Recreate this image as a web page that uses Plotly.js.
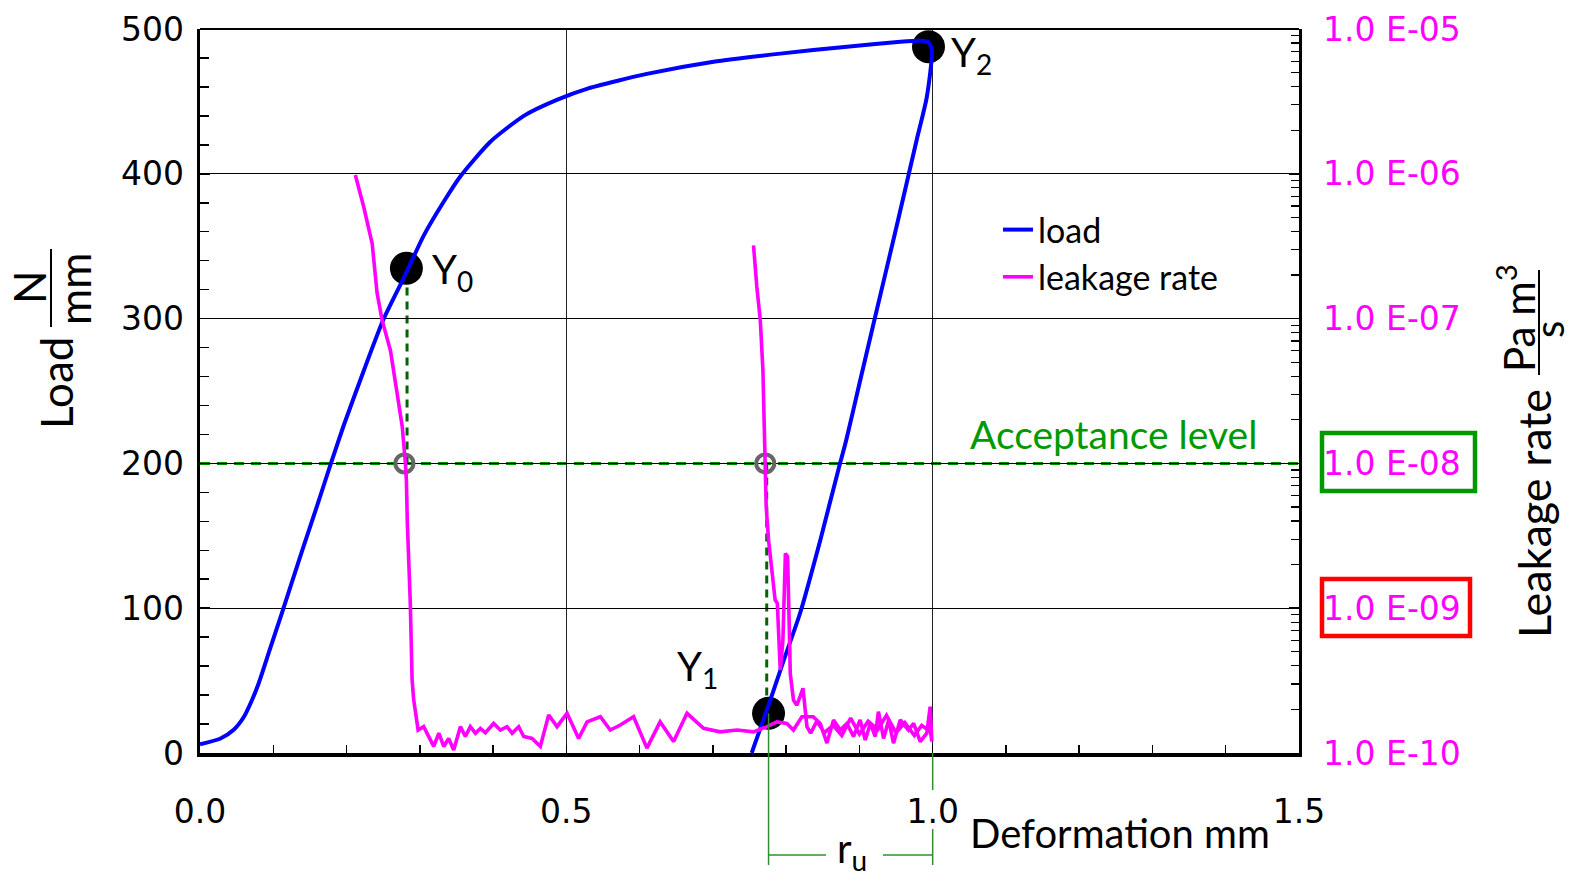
<!DOCTYPE html>
<html><head><meta charset="utf-8">
<script src="https://cdn.plot.ly/plotly-3.0.1.min.js"></script>
<style>html,body{margin:0;padding:0;background:#fff;} #chart{width:1575px;height:877px;}</style>
</head><body><div id="chart"></div>
<script>
// ---- data (deformation in mm, load in N/mm, leakage rate in Pa m^3/s) ----
const loadDeformation = [0, 0.028, 0.046, 0.060, 0.071, 0.080, 0.095, 0.112, 0.139, 0.160, 0.178, 0.196, 0.2235, 0.25, 0.28, 0.305, 0.333, 0.355, 0.396, 0.442, 0.487, 0.530, 0.610, 0.701, 0.792, 0.883, 0.956, 0.983, 0.994,
  0.999, 0.992, 0.978, 0.950, 0.920, 0.900, 0.882, 0.8715, 0.8466, 0.819, 0.796, 0.778, 0.756, 0.753];
const loadValues = [6, 10, 16, 25, 36.6, 48, 71, 97, 139, 171, 199, 226, 264, 299, 330, 357, 381, 398, 422, 440, 451, 459, 469, 477.4, 483, 487.8, 491.2, 491.9, 491,
  485.5, 453, 423, 362, 298, 255, 216, 196, 147, 96.5, 63, 36, 4.4, 0];

const leakDeformation = [0.212, 0.2235, 0.235, 0.2417, 0.2485, 0.26, 0.269, 0.276, 0.2804, 0.2817, 0.283, 0.287, 0.2895, 0.2917, 0.2977,
  0.3053, 0.319, 0.326, 0.3326, 0.3394, 0.3463, 0.3554, 0.3622, 0.369, 0.3759, 0.3827, 0.3895, 0.4008, 0.41, 0.419, 0.426, 0.435, 0.4418,
  0.4532, 0.4645, 0.4759, 0.4873, 0.501, 0.5168, 0.5283, 0.5464, 0.56, 0.5737, 0.5918, 0.610, 0.628, 0.6464, 0.6647, 0.6873, 0.710, 0.733,
  0.7555, 0.7738, 0.7875, 0.801, 0.810, 0.8215, 0.837, 0.8465, 0.8557, 0.8647, 0.874, 0.883, 0.892, 0.901, 0.908, 0.915, 0.9216, 0.926,
  0.933, 0.940, 0.9465, 0.9557, 0.967, 0.974, 0.983, 0.992, 0.9966, 0.9989,
  0.997, 0.985, 0.975, 0.962, 0.950, 0.937, 0.925, 0.912, 0.900, 0.888, 0.876, 0.864, 0.852, 0.842, 0.8335, 0.8284, 0.826, 0.823, 0.819,
  0.8147, 0.810, 0.8056, 0.8047, 0.802, 0.799, 0.7956, 0.792, 0.788, 0.785, 0.7806, 0.776, 0.7728, 0.7715, 0.770, 0.7683, 0.7647, 0.760, 0.7555];
const leakValues = [9.8e-7, 5.9e-7, 3.3e-7, 1.5e-7, 9.8e-8, 6.0e-8, 3.05e-8, 1.8e-8, 1.0e-8, 7.7e-9, 3.9e-9, 1.09e-9, 3.19e-10, 2.32e-10, 1.44e-10,
  1.52e-10, 1.11e-10, 1.37e-10, 1.11e-10, 1.26e-10, 1.05e-10, 1.52e-10, 1.30e-10, 1.52e-10, 1.37e-10, 1.48e-10, 1.38e-10, 1.60e-10, 1.44e-10, 1.52e-10, 1.37e-10, 1.52e-10, 1.30e-10,
  1.26e-10, 1.11e-10, 1.83e-10, 1.52e-10, 1.88e-10, 1.26e-10, 1.64e-10, 1.78e-10, 1.44e-10, 1.56e-10, 1.78e-10, 1.08e-10, 1.64e-10, 1.20e-10, 1.88e-10, 1.48e-10, 1.40e-10, 1.44e-10,
  1.40e-10, 1.52e-10, 1.64e-10, 1.60e-10, 1.44e-10, 1.78e-10, 1.78e-10, 1.60e-10, 1.17e-10, 1.69e-10, 1.44e-10, 1.60e-10, 1.30e-10, 1.69e-10, 1.23e-10, 1.60e-10, 1.30e-10, 1.93e-10,
  1.26e-10, 1.69e-10, 1.17e-10, 1.69e-10, 1.44e-10, 1.60e-10, 1.20e-10, 1.37e-10, 2.09e-10, 1.20e-10,
  1.41e-10, 1.55e-10, 1.32e-10, 1.62e-10, 1.38e-10, 1.82e-10, 1.45e-10, 1.66e-10, 1.35e-10, 1.74e-10, 1.32e-10, 1.55e-10, 1.38e-10, 1.66e-10, 1.37e-10, 1.52e-10, 2.09e-10, 2.80e-10, 2.45e-10,
  2.14e-10, 2.32e-10, 3.55e-10, 6.0e-10, 2.27e-9, 2.39e-9, 6.0e-10, 3.74e-10, 1.08e-9, 1.14e-9, 1.74e-9, 2.96e-9, 5.0e-9, 1.0e-8, 2.0e-8, 4.4e-8, 9.8e-8, 1.66e-7, 3.2e-7];

// characteristic points
const pointNames = ['Y<sub>0</sub>', 'Y<sub>1</sub>', 'Y<sub>2</sub>'];
const pointDeformation = [0.2817, 0.776, 0.9943];
const pointLoad = [334.7, 27.4, 487.8];
// crossings with acceptance level
const acceptanceLoad = 200;
const crossDeformation = [0.279, 0.7715];
const ruStart = 0.776, ruEnd = 1.0;

const loadTicks = [0, 100, 200, 300, 400, 500];
const defTicks = [0, 0.5, 1.0, 1.5];
const defTickText = ['0.0', '0.5', '1.0', '1.5'];
const leakTicks = [1e-10, 1e-9, 1e-8, 1e-7, 1e-6, 1e-5];
const leakTickText = ['1.0 E-10', '1.0 E-09', '1.0 E-08', '1.0 E-07', '1.0 E-06', '1.0 E-05'];

// ---- layout helpers ----
const W = 1575, H = 877, M = {l: 200, r: 276, t: 29, b: 124};
const PW = W - M.l - M.r, PH = H - M.t - M.b;
const px = v => (v - M.l) / PW;          // pixel x -> paper
const py = v => (H - M.b - v) / PH;      // pixel y -> paper
const X_RANGE = [0, 1.5];
const dx = v => (v - X_RANGE[0]) / (X_RANGE[1] - X_RANGE[0]); // data x -> paper
const Y_RANGE = [0, 500];
const dy = v => (v - Y_RANGE[0]) / (Y_RANGE[1] - Y_RANGE[0]);

const TXT = 'Lato, "Open Sans", sans-serif';
const NUM = '"DejaVu Sans", Verdana, sans-serif';
const GREEN = '#008a00';
const DARK_GREEN = '#006400';
const THIN_GREEN = '#2f8f2f';

const traces = [
  {x: pointDeformation, y: pointLoad, type: 'scatter', mode: 'markers', showlegend: false, hoverinfo: 'skip',
   marker: {color: '#000', size: 33}},
  {x: loadDeformation, y: loadValues, type: 'scatter', mode: 'lines', name: 'load',
   line: {color: '#0000ff', width: 4, shape: 'spline', smoothing: 0.6}},
  {x: leakDeformation, y: leakValues, type: 'scatter', mode: 'lines', name: 'leakage rate', yaxis: 'y2',
   line: {color: '#ff00ff', width: 3.6}},
  {x: crossDeformation, y: crossDeformation.map(() => acceptanceLoad), type: 'scatter', mode: 'markers', showlegend: false, hoverinfo: 'skip',
   marker: {symbol: 'circle-open', size: 18, color: '#666', line: {width: 4, color: '#666'}}}
];

const shapes = [
  // acceptance level
  {type: 'line', xref: 'paper', yref: 'y', x0: 0, x1: 1, y0: acceptanceLoad, y1: acceptanceLoad,
   line: {color: GREEN, width: 3, dash: '10px,7px'}, layer: 'below'},
  // Y0 projection
  {type: 'line', xref: 'x', yref: 'y', x0: 0.2826, x1: 0.2826, y0: acceptanceLoad, y1: pointLoad[0],
   line: {color: DARK_GREEN, width: 3, dash: '8px,6px'}, layer: 'below'},
  // Y1 projection
  {type: 'line', xref: 'x', yref: 'y', x0: 0.7735, x1: 0.7735, y0: acceptanceLoad, y1: pointLoad[1],
   line: {color: DARK_GREEN, width: 3, dash: '8px,6px'}, layer: 'below'},
  // r_u bracket
  {type: 'line', xref: 'paper', yref: 'paper', x0: dx(ruStart), x1: dx(ruStart), y0: dy(pointLoad[1]), y1: py(865), line: {color: THIN_GREEN, width: 1.5}},
  {type: 'line', xref: 'paper', yref: 'paper', x0: dx(ruEnd), x1: dx(ruEnd), y0: 0, y1: py(790), line: {color: THIN_GREEN, width: 1.5}},
  {type: 'line', xref: 'paper', yref: 'paper', x0: dx(ruEnd), x1: dx(ruEnd), y0: py(829), y1: py(865), line: {color: THIN_GREEN, width: 1.5}},
  {type: 'line', xref: 'paper', yref: 'paper', x0: dx(ruStart), x1: px(826), y0: py(855), y1: py(855), line: {color: THIN_GREEN, width: 1.5}},
  {type: 'line', xref: 'paper', yref: 'paper', x0: px(883), x1: dx(ruEnd), y0: py(855), y1: py(855), line: {color: THIN_GREEN, width: 1.5}},
  // top border
  {type: 'line', xref: 'paper', yref: 'paper', x0: 0, x1: 1, y0: 1, y1: 1, line: {color: '#000', width: 2}},
  // label boxes
  {type: 'rect', xref: 'paper', yref: 'paper', x0: px(1322), x1: px(1475), y0: py(433), y1: py(491), line: {color: '#009900', width: 4.5}},
  {type: 'rect', xref: 'paper', yref: 'paper', x0: px(1322), x1: px(1470), y0: py(579), y1: py(636), line: {color: '#ff0000', width: 4.5}},
  // fraction bars of the axis titles
  {type: 'line', xref: 'paper', yref: 'paper', x0: px(51), x1: px(51), y0: py(249), y1: py(327), line: {color: '#000', width: 2}},
  {type: 'line', xref: 'paper', yref: 'paper', x0: px(1539), x1: px(1539), y0: py(270), y1: py(375), line: {color: '#000', width: 2}}
];

const ann = (text, x, y, opts) => Object.assign({text, x: px(x), y: py(y), xref: 'paper', yref: 'paper', showarrow: false,
  xanchor: 'center', yanchor: 'middle', font: {family: TXT, size: 40, color: '#000'}}, opts || {});

const annotations = [
  ann(pointNames[0], 430, 271, {xanchor: 'left'}),
  ann(pointNames[1], 675, 668, {xanchor: 'left'}),
  ann(pointNames[2], 949, 54, {xanchor: 'left'}),
  ann('Acceptance level', 968, 434, {xanchor: 'left', font: {family: TXT, size: 39, color: '#009900'}}),
  ann('Deformation mm', 968, 833, {xanchor: 'left', font: {family: TXT, size: 40, color: '#000'}}),
  ann('r<sub>u</sub>', 852, 850, {}),
  ann('Load', 56, 383, {textangle: -90, font: {family: TXT, size: 44, color: '#000'}}),
  ann('N', 29, 287, {textangle: -90, font: {family: TXT, size: 44, color: '#000'}}),
  ann('mm', 74, 289, {textangle: -90, font: {family: TXT, size: 44, color: '#000'}}),
  ann('Leakage rate', 1534, 514, {textangle: -90, font: {family: TXT, size: 45, color: '#000'}}),
  ann('Pa m<sup>3</sup>', 1516, 318, {textangle: -90, font: {family: TXT, size: 42, color: '#000'}}),
  ann('s', 1549, 330, {textangle: -90, font: {family: TXT, size: 40, color: '#000'}})
];

const layout = {
  width: W, height: H, margin: M, paper_bgcolor: '#fff', plot_bgcolor: '#fff',
  showlegend: true,
  legend: {x: px(998), y: py(201), xanchor: 'left', yanchor: 'top', bgcolor: 'rgba(0,0,0,0)',
           font: {family: TXT, size: 34, color: '#000'}, tracegroupgap: 0},
  xaxis: {range: X_RANGE, tickmode: 'array', tickvals: defTicks, ticktext: defTickText,
          tickfont: {family: NUM, size: 33, color: '#000'}, ticks: 'inside', ticklen: 8, tickwidth: 1.5, tickcolor: '#000',
          ticklabelstandoff: 27,
          minor: {dtick: 0.1, ticks: 'inside', ticklen: 8, tickwidth: 1.5, tickcolor: '#000', showgrid: false},
          showgrid: true, gridcolor: '#222', gridwidth: 1, zeroline: false,
          showline: true, linecolor: '#000', linewidth: 3.5},
  yaxis: {range: Y_RANGE, tickmode: 'array', tickvals: loadTicks,
          tickfont: {family: NUM, size: 33, color: '#000'}, ticks: 'inside', ticklen: 10, tickwidth: 1.5, tickcolor: '#000',
          ticklabelstandoff: 6,
          minor: {dtick: 20, ticks: 'inside', ticklen: 9, tickwidth: 1.5, tickcolor: '#000', showgrid: false},
          showgrid: true, gridcolor: '#000', gridwidth: 1, zeroline: false,
          showline: true, linecolor: '#000', linewidth: 3.5},
  yaxis2: {type: 'log', range: [-10, -5], overlaying: 'y', side: 'right', tickmode: 'array', tickvals: leakTicks, ticktext: leakTickText,
           tickfont: {family: NUM, size: 33, color: '#ff00ff'}, ticks: 'inside', ticklen: 10, tickwidth: 1.5, tickcolor: '#000',
           ticklabelstandoff: 15,
           minor: {dtick: 'D1', ticks: 'inside', ticklen: 8, tickwidth: 1.2, tickcolor: '#000', showgrid: false},
           showgrid: false, zeroline: false, showline: true, linecolor: '#000', linewidth: 2.5},
  shapes, annotations
};

Plotly.newPlot('chart', traces, layout, {staticPlot: true, displayModeBar: false});
</script>
</body></html>
